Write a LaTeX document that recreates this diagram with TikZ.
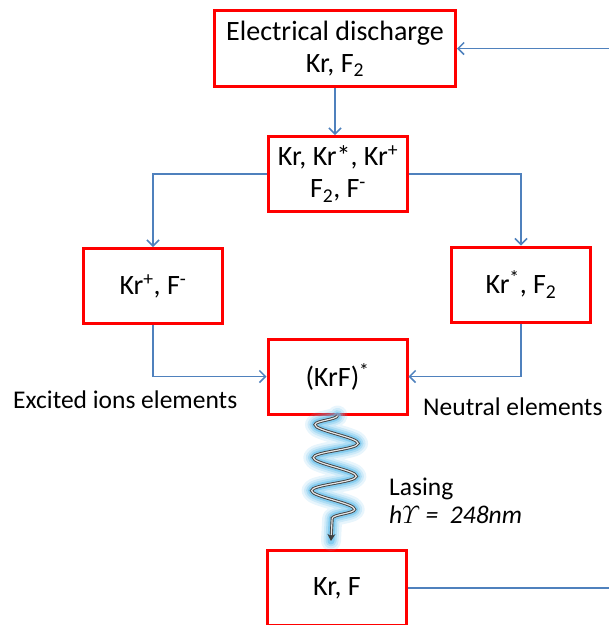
\documentclass[tikz,border=0pt]{standalone}
\usepackage{amsmath}
\usepackage{fontspec}
\setmainfont{Carlito}
\usetikzlibrary{arrows.meta,decorations.pathmorphing}
\definecolor{linkblue}{RGB}{79,129,189}
\definecolor{glowblue}{RGB}{100,190,235}
\tikzset{
  chembox/.style={draw=red, line width=3pt, minimum width=139pt, minimum height=75pt,
    align=center, inner sep=2pt, font=\fontsize{28}{32}\selectfont},
  link/.style={draw=linkblue, line width=1.5pt, -{Straight Barb[length=6pt,width=12pt]}},
  note/.style={font=\fontsize{25.5}{30}\selectfont, inner sep=0pt, anchor=base west},
  wave/.style={decorate, decoration={snake, mirror, amplitude=22pt, segment length=33pt,
    pre length=0pt, post length=14pt}}
}
\begin{document}
\begin{tikzpicture}[x=1pt,y=-1pt]
\useasboundingbox (0,0) rectangle (609,625);
% boxes
\node[chembox, minimum width=241pt, minimum height=76pt] (dis) at (335,48.5) {Electrical discharge\\Kr, F\textsubscript{2}};
\node[chembox] (mix) at (338,174) {Kr, Kr*, Kr\textsuperscript{+}\\F\textsubscript{2}, F\textsuperscript{-}};
\node[chembox] (ion) at (153,286) {Kr\textsuperscript{+}, F\textsuperscript{-}};
\node[chembox] (neu) at (521,284.5) {Kr\textsuperscript{*}, F\textsubscript{2}};
\node[chembox] (krf) at (337.5,376.5) {(KrF)\textsuperscript{*}};
\node[chembox] (kf) at (337,588) {Kr, F};
% labels
\node[note] (exc) at (13,408) {Excited ions elements};
\node[note] (ntr) at (423,415) {Neutral elements};
\node[note] (lase) at (389,495) {Lasing};
\node[note] (hnu) at (389,523) {\itshape h$\varUpsilon$ =\ \ 248nm};
% connectors
\draw[link] (dis.south) -- (dis.south |- mix.north);
\draw[link] (mix.west) -| (ion.north);
\draw[link] (mix.east) -| (neu.north);
\draw[link] (ion.south) |- (krf.west);
\draw[link] (neu.south) |- (krf.east);
\draw[link] (kf.east) -- ++(300,0) |- (dis.east);
% photon
\coordinate (wend) at (331,541);
\foreach \w/\o in {20/0.15, 15/0.2, 11/0.3, 7/0.55}
  \draw[wave, glowblue, line width=\w pt, opacity=\o, line cap=round, line join=round] (krf.south) -- (wend);
\draw[wave, black!75, line width=3pt, -{Stealth[length=7pt,width=8pt]}] (krf.south) -- (wend);
\draw[wave, gray!20, line width=1.2pt, shorten >=6pt] (krf.south) -- (wend);
\end{tikzpicture}
\end{document}
